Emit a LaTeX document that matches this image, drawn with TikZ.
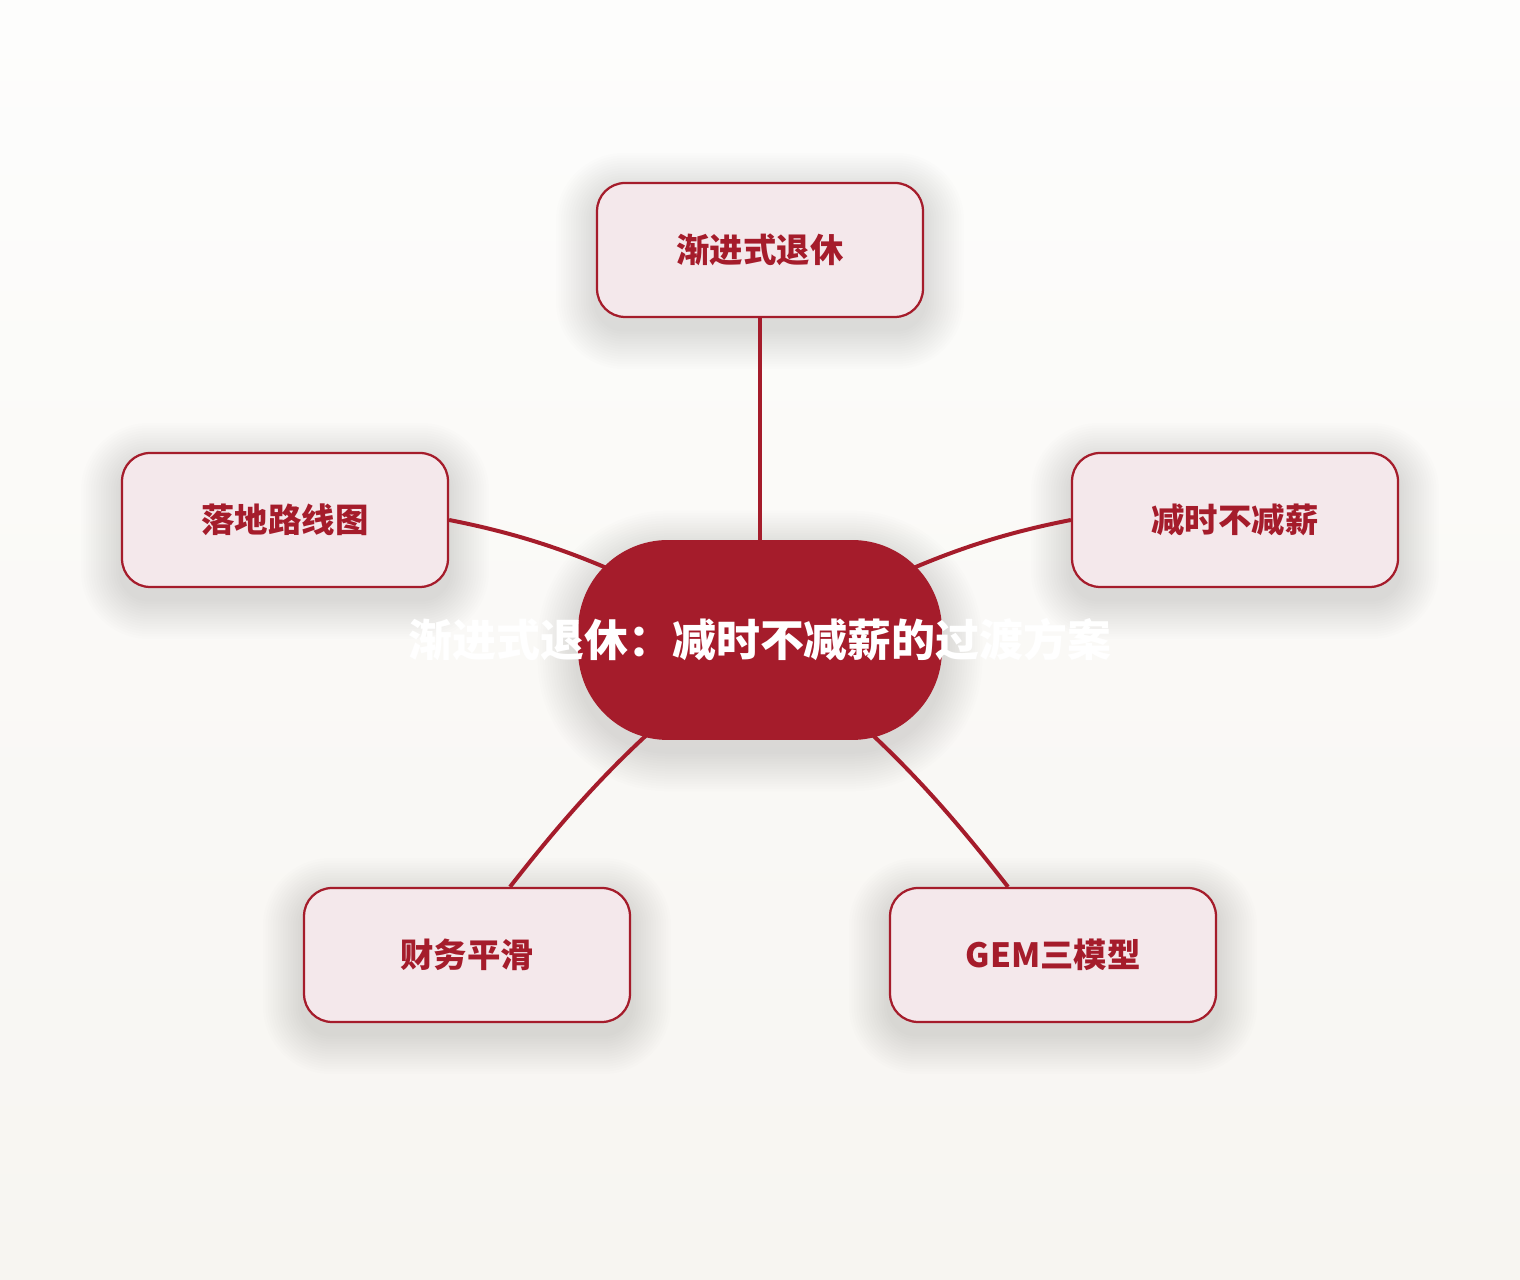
\documentclass[tikz,border=0pt]{standalone}
\usepackage{fontspec}
\newfontfamily\cjk{Noto Sans CJK SC}

\pgfdeclarelayer{back}
\pgfdeclarelayer{glow}
\pgfdeclarelayer{links}
\pgfsetlayers{back,glow,links,main}

\definecolor{wine}{HTML}{A51C2B}
\definecolor{blush}{HTML}{F4E8EB}
\definecolor{papertop}{HTML}{FDFDFC}
\definecolor{paperbot}{HTML}{F7F5F1}

% soft shadow under a node: name, corner radius (cm)
\newcommand{\castshadow}[2]{%
	\begin{pgfonlayer}{glow}
		\foreach \k in {1,...,16}
			\fill[black, opacity=0.009, rounded corners={(#2+0.05*\k)*1cm}]
				([xshift=-\k*0.05cm, yshift={-0.22cm-\k*0.05cm}]#1.south west)
				rectangle ([xshift=\k*0.05cm, yshift={-0.22cm+\k*0.05cm}]#1.north east);
	\end{pgfonlayer}}

\tikzset{
	branch/.style={draw=wine, line width=0.045cm, fill=blush,
		rounded corners=0.56cm, minimum width=6.52cm, minimum height=2.68cm,
		text=wine, font=\cjk\bfseries\fontsize{19}{23}\selectfont},
	hub/.style={fill=wine, rounded corners=1.8cm, minimum width=7.28cm,
		minimum height=4cm},
	hubtext/.style={text=white, inner sep=0pt,
		font=\cjk\bfseries\fontsize{25}{30}\selectfont},
	link/.style={draw=wine, line width=0.08cm}
}

\begin{document}
\begin{tikzpicture}[x=0.02cm, y=0.02cm, line cap=round]

			% constants
			\pgfmathsetmacro{\xmax}{1520};
			\pgfmathsetmacro{\ymax}{1280};
			\pgfmathsetmacro{\xmid}{760};

			% paper
			\begin{pgfonlayer}{back}
				\shade[top color=papertop, bottom color=paperbot]
					(0,0) rectangle ( \xmax, \ymax );
			\end{pgfonlayer}

			% hub
			\node[hub] (hub) at ( \xmid, 640 ) {};
			\node[hubtext] (hubtitle) at (hub)
				{渐进式退休：减时不减薪的过渡方案};

			% branches
			\node[branch] (gradual) at ( \xmid, 1030 ) {渐进式退休};
			\node[branch] (roadmap) at ( 285, 760 ) {落地路线图};
			\node[branch] (keeppay) at ( 1235, 760 ) {减时不减薪};
			\node[branch] (finance) at ( 467, 325 ) {财务平滑};
			\node[branch] (gem) at ( 1053, 325 ) {GEM三模型};

			% shadows
			\castshadow{hub}{1.8}
			\castshadow{gradual}{0.56}
			\castshadow{roadmap}{0.56}
			\castshadow{keeppay}{0.56}
			\castshadow{finance}{0.56}
			\castshadow{gem}{0.56}

			% links
			\begin{pgfonlayer}{links}
				\draw[link] (hub.center) -- (gradual.south);
				\draw[link] (hub.center)
					to[out=155, in=-11] (roadmap.east);
				\draw[link] (hub.center)
					to[out=25, in=191] (keeppay.west);
				\draw[link] (hub.center)
					to[out=218, in=52] ([xshift=0.86cm]finance.north);
				\draw[link] (hub.center)
					to[out=-38, in=128] ([xshift=-0.9cm]gem.north);
			\end{pgfonlayer}

		\end{tikzpicture}
\end{document}
